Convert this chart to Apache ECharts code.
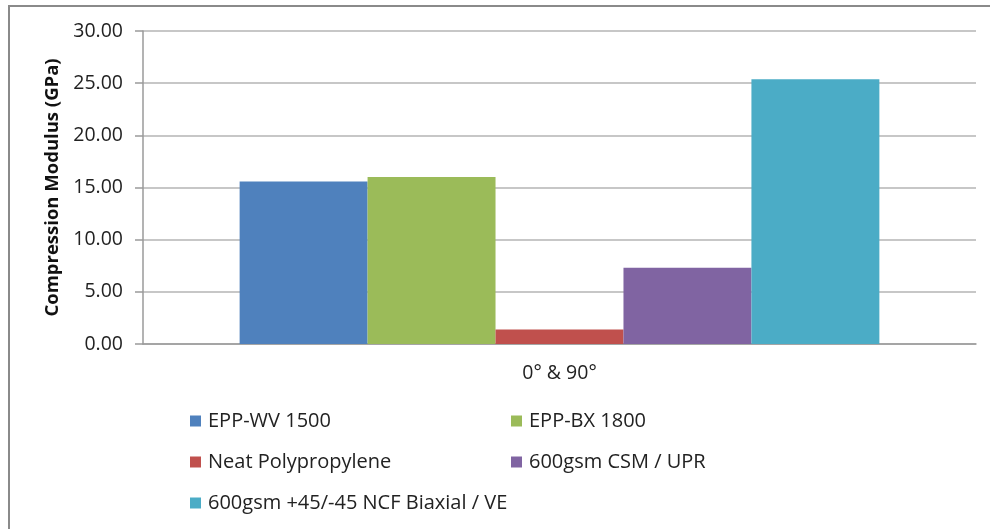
<!DOCTYPE html>
<html>
<head>
<meta charset="utf-8">
<script src="https://cdn.jsdelivr.net/npm/echarts@6/dist/echarts.min.js"></script>
<style>
  html, body { margin: 0; padding: 0; background: #fff; }
  #chart { width: 990px; height: 529px; }
</style>
</head>
<body>
<div id="chart"></div>
<script>
// Compression modulus per material, single loading orientation
const categories = ['0° & 90°'];
const seriesNames = [
  'EPP-WV 1500',
  'EPP-BX 1800',
  'Neat Polypropylene',
  '600gsm CSM / UPR',
  '600gsm +45/-45 NCF Biaxial / VE'
];
const seriesValues = [15.58, 16.0, 1.4, 7.32, 25.37];
const seriesColors = ['#4F81BD', '#9BBB59', '#C0504D', '#8064A2', '#4BACC6'];
const yTicks = { min: 0, max: 30, interval: 5 };

const FONT = '"Open Sans", "Noto Sans", sans-serif';

const series = seriesNames.map((name, i) => ({
  name: name,
  type: 'bar',
  data: [seriesValues[i]],
  barGap: '0%',
  barCategoryGap: '23.2%',
  itemStyle: { color: seriesColors[i] },
  emphasis: { disabled: true }
}));

// legend entries laid out in two columns, three rows
const legendSlots = [
  { left: 185, top: 406 },
  { left: 506, top: 406 },
  { left: 185, top: 447 },
  { left: 506, top: 447 },
  { left: 185, top: 488 }
];
const legends = seriesNames.map((name, i) => ({
  data: [name],
  left: legendSlots[i].left,
  top: legendSlots[i].top,
  itemWidth: 11,
  itemHeight: 11,
  itemGap: 0,
  icon: 'rect',
  selectedMode: false,
  textStyle: { fontFamily: FONT, fontSize: 20, color: '#222', padding: [0, 0, 0, 2] }
}));

const chart = echarts.init(document.getElementById('chart'), null, { renderer: 'canvas' });
chart.setOption({
  animation: false,
  backgroundColor: '#ffffff',
  grid: { left: 143, right: 14, top: 31, bottom: 185, containLabel: false },
  legend: legends,
  xAxis: {
    type: 'category',
    data: categories,
    axisLine: { show: true, lineStyle: { color: '#9a9a9a', width: 1.5 } },
    axisTick: { show: false },
    axisLabel: { margin: 19, fontFamily: FONT, fontSize: 19.5, color: '#222' },
    splitLine: { show: false }
  },
  yAxis: {
    type: 'value',
    min: yTicks.min,
    max: yTicks.max,
    interval: yTicks.interval,
    name: 'Compression Modulus (GPa)',
    nameLocation: 'middle',
    nameGap: 81,
    nameRotate: 90,
    nameTextStyle: { fontFamily: FONT, fontSize: 18.5, fontWeight: 'bold', color: '#111' },
    axisLine: { show: true, lineStyle: { color: '#9a9a9a', width: 1.5 } },
    axisTick: { show: true, length: 8, lineStyle: { color: '#9a9a9a', width: 1.5 } },
    axisLabel: {
      margin: 20,
      fontFamily: FONT,
      fontSize: 19.5,
      color: '#222',
      formatter: v => v.toFixed(2)
    },
    splitLine: { show: true, lineStyle: { color: '#b4b4b4', width: 1.5 } }
  },
  series: series,
  graphic: [
    {
      type: 'polyline',
      silent: true,
      shape: { points: [[9, 529], [9, 6], [990, 6]] },
      style: { stroke: '#8a8a8a', lineWidth: 2, fill: null }
    }
  ]
});
</script>
</body>
</html>
